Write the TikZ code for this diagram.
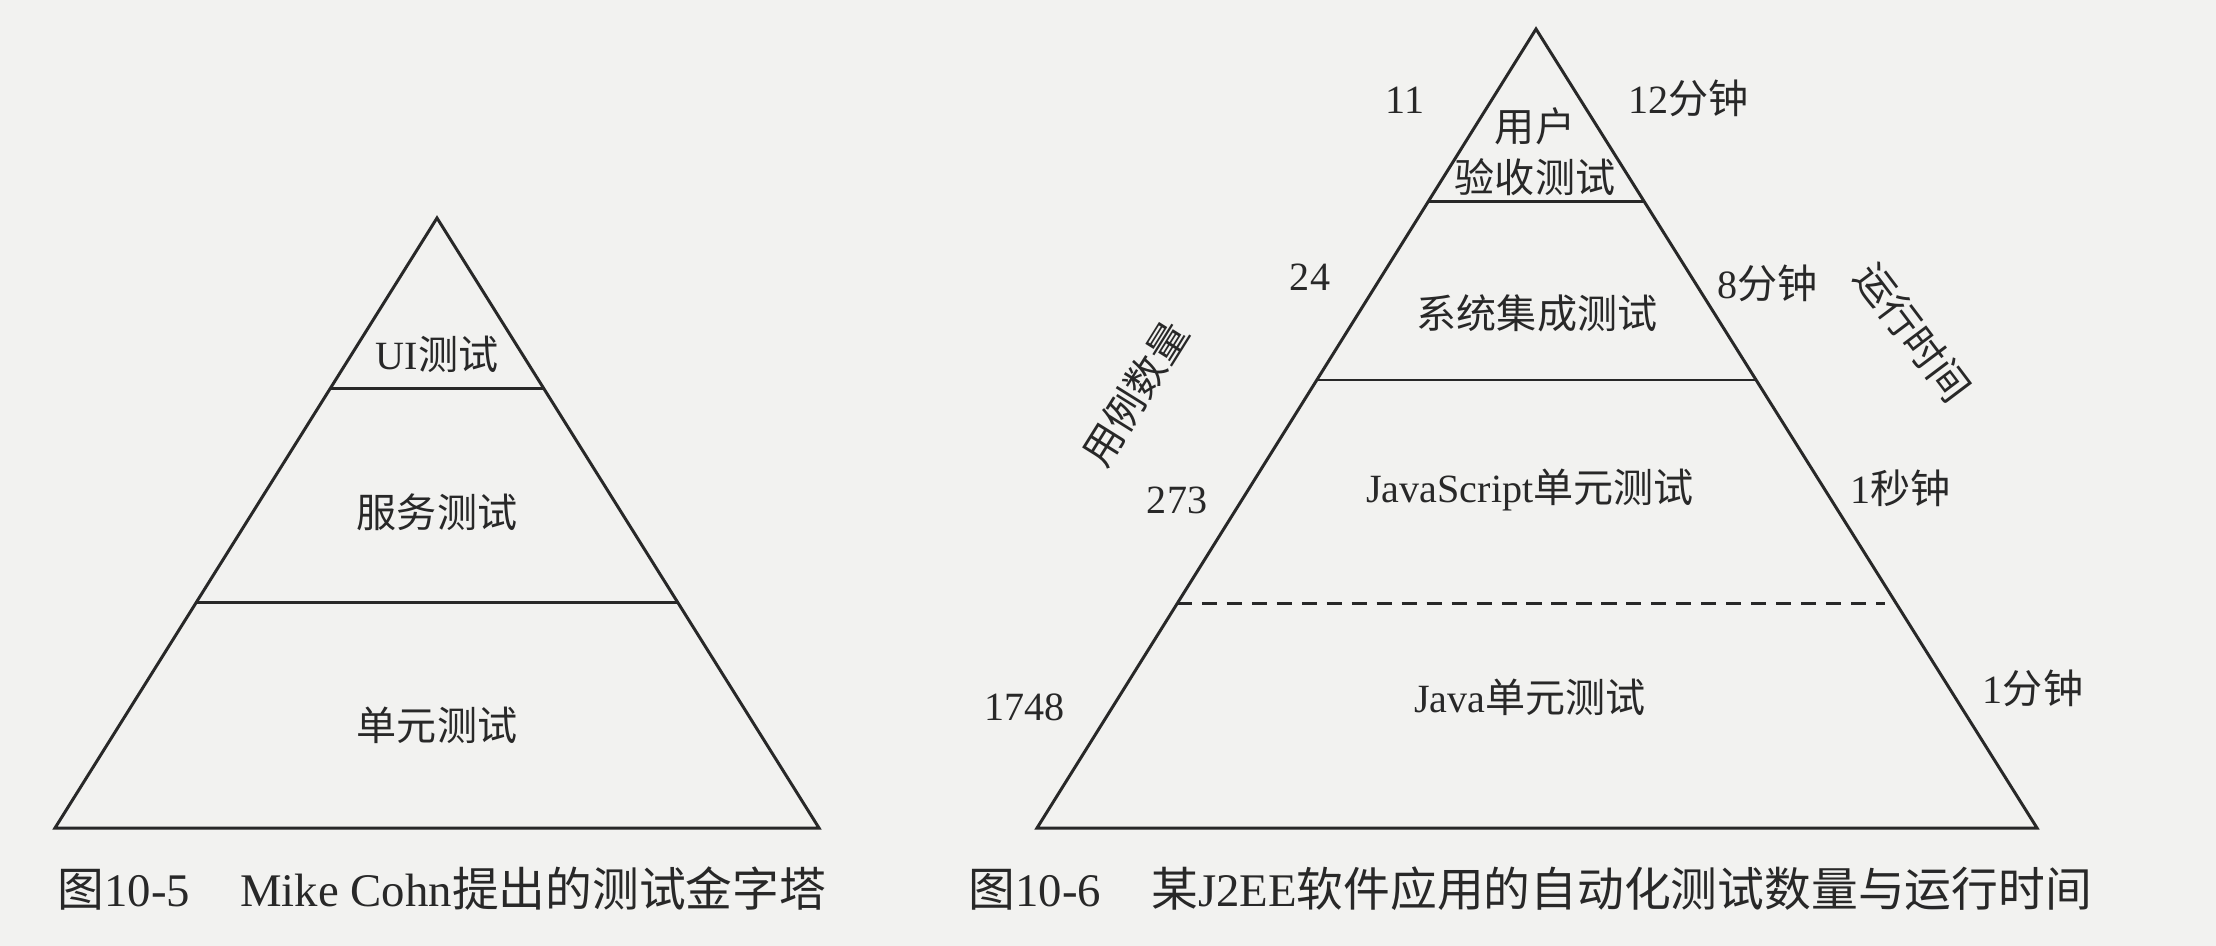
\documentclass[tikz,border=0pt]{standalone}
\usepackage{fontspec}
\setmainfont{Liberation Serif}
\newfontfamily\cjk{Noto Sans CJK SC}
\newcommand{\zh}[1]{{\cjk #1}}
\usetikzlibrary{calc}
\definecolor{paper}{RGB}{242,242,240}
\definecolor{ink}{RGB}{40,40,40}

\begin{document}
\begin{tikzpicture}[x=0.01cm, y=-0.01cm,
		edge/.style={draw=ink, line width=0.85pt},
		lbl/.style={text=ink, inner sep=0pt, font=\fontsize{11.4pt}{14.5pt}\selectfont},
		capt/.style={text=ink, inner sep=0pt, anchor=west, font=\fontsize{13.3pt}{16pt}\selectfont}]
	\fill[paper] (0, 0) rectangle (2216, 946);
	\useasboundingbox (0, 0) rectangle (2216, 946);

	\coordinate (lpeak) at (437, 218);
	\coordinate (lleft) at (55, 828);
	\coordinate (lright) at (819, 828);
	\draw[edge] (lpeak) -- (lleft) -- (lright) -- cycle;
	\draw[edge] ($(lpeak)!0.2803!(lleft)$) -- ($(lpeak)!0.2803!(lright)$);
	\draw[edge] ($(lpeak)!0.631!(lleft)$) -- ($(lpeak)!0.631!(lright)$);
		\node[lbl] (ui) at (437, 354){UI\zh{测试}};
		\node[lbl] (service) at (437, 512){\zh{服务测试}};
		\node[lbl] (unit) at (437, 725){\zh{单元测试}};
	\node[capt] (capleft) at (57, 889){\zh{图}10-5\hspace{0.5cm}Mike Cohn\zh{提出的测试金字塔}};

	\coordinate (rpeak) at (1536, 29);
	\coordinate (rleft) at (1037, 828);
	\coordinate (rright) at (2037, 828);
	\draw[edge] (rpeak) -- (rleft) -- (rright) -- cycle;
	\draw[edge] ($(rpeak)!0.2153!(rleft)$) -- ($(rpeak)!0.2153!(rright)$);
	\draw[edge] ($(rpeak)!0.4393!(rleft)$) -- ($(rpeak)!0.4393!(rright)$);
	\draw[edge, dash pattern=on 4.3pt off 2.8pt, shorten >=0.12cm] ($(rpeak)!0.7196!(rleft)$) -- ($(rpeak)!0.7196!(rright)$);
		\node[lbl, align=center] (accept) at (1535, 152){\zh{用户}\\\zh{验收测试}};
		\node[lbl] (n11) at (1405, 100){11};
		\node[lbl, anchor=west] (t12) at (1628, 98){12\zh{分钟}};
		\node[lbl] (n24) at (1310, 277){24};
		\node[lbl, anchor=west] (t8) at (1717, 283){8\zh{分钟}};
		\node[lbl] (system) at (1537, 313){\zh{系统集成测试}};
		\node[lbl, rotate=58] (count) at (1135, 393){\zh{用例数量}};
		\node[lbl, rotate=-53] (runtime) at (1913, 332){\zh{运行时间}};
		\node[lbl] (n273) at (1177, 500){273};
		\node[lbl] (jsunit) at (1530, 490){JavaScript\zh{单元测试}};
		\node[lbl, anchor=west] (t1s) at (1850, 488){1\zh{秒钟}};
		\node[lbl, anchor=east] (n1748) at (1065, 707){1748};
		\node[lbl] (javaunit) at (1530, 697){Java\zh{单元测试}};
		\node[lbl] (t1m) at (2033, 688){1\zh{分钟}};
	\node[capt] (capright) at (968, 889){\zh{图}10-6\hspace{0.5cm}\zh{某}J2EE\zh{软件应用的自动化测试数量与运行时间}};
\end{tikzpicture}
\end{document}
